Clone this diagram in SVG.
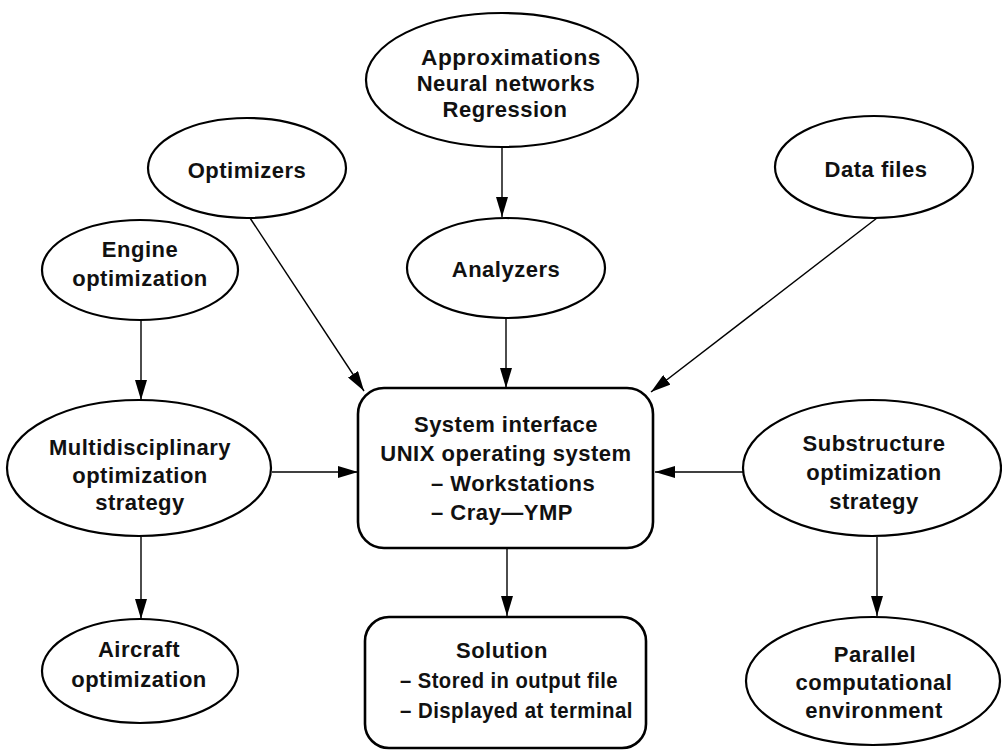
<svg xmlns="http://www.w3.org/2000/svg" width="1002" height="752" viewBox="0 0 1002 752">
<defs>
<marker id="arr" markerUnits="userSpaceOnUse" markerWidth="20" markerHeight="12" refX="20" refY="6" orient="auto">
<path d="M0,0 L20,6 L0,12 z" fill="#000"/>
</marker>
<style>
.n{fill:#fff;stroke:#000;stroke-width:2.2}
.b{fill:#fff;stroke:#000;stroke-width:2.6}
text{font-family:"Liberation Sans",Arial,Helvetica,sans-serif;font-weight:bold;font-size:22px;letter-spacing:0.5px;fill:#111}
.c{text-anchor:middle}
.l{text-anchor:start}
.e{fill:none;stroke:#000;stroke-width:1.4;marker-end:url(#arr)}
</style>
</defs>
<rect width="1002" height="752" fill="#fff"/>
<g id="connectors">
<line class="e" x1="502" y1="147" x2="502" y2="217"/>
<line class="e" x1="506" y1="318" x2="506" y2="388"/>
<line class="e" x1="250" y1="218" x2="364" y2="391"/>
<line class="e" x1="877" y1="218" x2="651" y2="392"/>
<line class="e" x1="141" y1="320" x2="141" y2="400"/>
<line class="e" x1="272" y1="472" x2="358" y2="472"/>
<line class="e" x1="743" y1="472" x2="655" y2="472"/>
<line class="e" x1="141" y1="537" x2="141" y2="619"/>
<line class="e" x1="507" y1="548" x2="507" y2="616"/>
<line class="e" x1="877" y1="537" x2="877" y2="616"/>
</g>
<g id="approx">
<ellipse class="n" cx="502" cy="80" rx="136" ry="67"/>
<text class="c" x="511" y="65" textLength="180" lengthAdjust="spacingAndGlyphs">Approximations</text>
<text class="c" x="506" y="91">Neural networks</text>
<text class="c" x="505" y="117">Regression</text>
</g>
<g id="optimizers">
<ellipse class="n" cx="247" cy="168" rx="99" ry="50"/>
<text class="c" x="247" y="178">Optimizers</text>
</g>
<g id="datafiles">
<ellipse class="n" cx="874" cy="167" rx="99" ry="51"/>
<text class="c" x="876" y="177">Data files</text>
</g>
<g id="engine">
<ellipse class="n" cx="140" cy="270" rx="98" ry="50"/>
<text class="c" x="140" y="257">Engine</text>
<text class="c" x="140" y="286">optimization</text>
</g>
<g id="analyzers">
<ellipse class="n" cx="506" cy="268" rx="99" ry="50"/>
<text class="c" x="506" y="277">Analyzers</text>
</g>
<g id="system">
<rect class="b" x="358" y="388" width="295" height="160" rx="26" ry="26"/>
<text class="c" x="506" y="432">System interface</text>
<text class="c" x="506" y="461">UNIX operating system</text>
<text class="l" x="431" y="491">– Workstations</text>
<text class="l" x="431" y="520">– Cray—YMP</text>
</g>
<g id="multi">
<ellipse class="n" cx="139" cy="468" rx="132" ry="68"/>
<text class="c" x="140" y="455">Multidisciplinary</text>
<text class="c" x="140" y="483">optimization</text>
<text class="c" x="140" y="510">strategy</text>
</g>
<g id="substructure">
<ellipse class="n" cx="872" cy="468" rx="129" ry="68"/>
<text class="c" x="874" y="451">Substructure</text>
<text class="c" x="874" y="480">optimization</text>
<text class="c" x="874" y="509">strategy</text>
</g>
<g id="aircraft">
<ellipse class="n" cx="140" cy="671" rx="98" ry="52"/>
<text class="c" x="139" y="657">Aircraft</text>
<text class="c" x="139" y="687">optimization</text>
</g>
<g id="solution">
<rect class="b" x="365" y="617" width="281" height="131" rx="24" ry="24"/>
<text class="c" x="502" y="658">Solution</text>
<text class="l" x="400" y="688" textLength="218" lengthAdjust="spacingAndGlyphs">– Stored in output file</text>
<text class="l" x="400" y="718" textLength="233" lengthAdjust="spacingAndGlyphs">– Displayed at terminal</text>
</g>
<g id="parallel">
<ellipse class="n" cx="873" cy="681" rx="127" ry="64"/>
<text class="c" x="875" y="662">Parallel</text>
<text class="c" x="874" y="690">computational</text>
<text class="c" x="874" y="718">environment</text>
</g>
</svg>
